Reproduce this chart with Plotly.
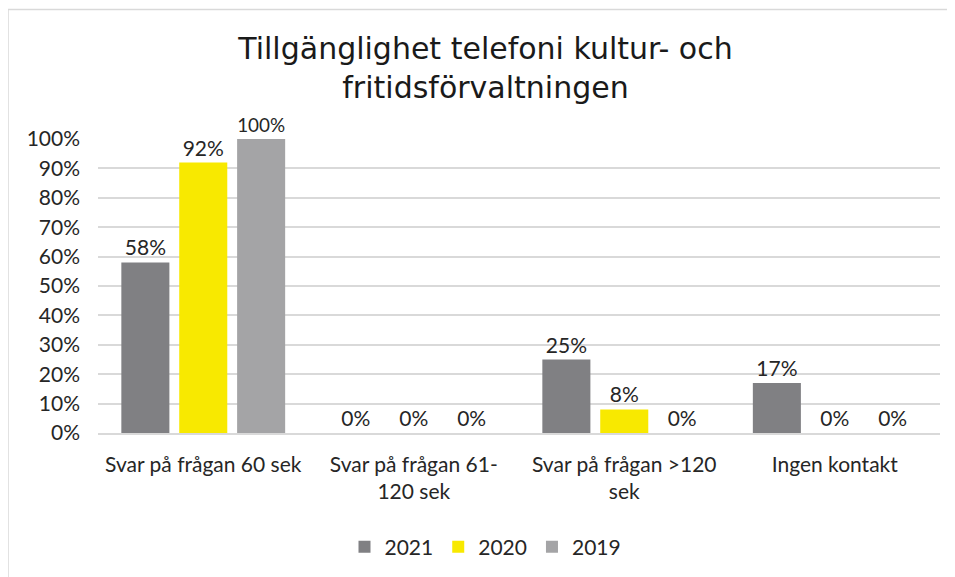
import plotly.graph_objects as go

categories = ["Svar på frågan 60 sek", "Svar på frågan 61-<br>120 sek", "Svar på frågan >120<br>sek", "Ingen kontakt"]
series_names = ["2021", "2020", "2019"]
values_2021 = [0.58, 0.0, 0.25, 0.17]
values_2020 = [0.92, 0.0, 0.08, 0.0]
values_2019 = [1.00, 0.0, 0.0, 0.0]
tick_vals = [0, 0.1, 0.2, 0.3, 0.4, 0.5, 0.6, 0.7, 0.8, 0.9, 1.0]
tick_text = ["0%", "10%", "20%", "30%", "40%", "50%", "60%", "70%", "80%", "90%", "100%"]

colors = ["#808083", "#f8e900", "#a4a4a6"]
all_values = [values_2021, values_2020, values_2019]

W, H = 955, 577
OFF = 8  # page body margin offset
ml = 98 - OFF
mt = 139 - OFF
mr = W - (940 - OFF)
mb = H - (433 - OFF)
pw, ph = W - ml - mr, H - mt - mb

FONT = "Lato"
FS = 21
TXT = "#262626"

fig = go.Figure()
for name, vals, col in zip(series_names, all_values, colors):
    fig.add_trace(go.Bar(
        x=categories, y=vals, name=name,
        marker=dict(color=col, line=dict(width=0)),
        text=[f"{round(v*100)}%" for v in vals],
        textposition="outside",
        textfont=dict(family=FONT, size=FS, color=TXT),
        cliponaxis=False,
    ))

def px_x(x):
    return (x - ml) / pw

def px_y(y):
    return (H - mb - y) / ph

border = "#d9d9d9"
fig.add_shape(type="line", xref="paper", yref="paper",
              x0=px_x(0), x1=px_x(970), y0=px_y(1.5), y1=px_y(1.5),
              line=dict(color=border, width=1.5))
fig.add_shape(type="line", xref="paper", yref="paper",
              x0=px_x(0), x1=px_x(0), y0=px_y(1.5), y1=px_y(600),
              line=dict(color=border, width=1.5))

fig.update_layout(
    width=W, height=H,
    margin=dict(l=ml, r=mr, t=mt, b=mb),
    paper_bgcolor="white", plot_bgcolor="white",
    barmode="group", bargap=0.175, bargroupgap=0.17,
    title=dict(
        text="Tillgänglighet telefoni kultur- och<br>fritidsförvaltningen",
        font=dict(family="DejaVu Sans", size=30, color="#1a1a1a"),
        x=0.5, xanchor="center", xref="container",
        y=1 - 51 / H, yanchor="top", yref="container",
    ),
    font=dict(family=FONT, size=FS, color=TXT),
    xaxis=dict(showgrid=False, showline=True, linecolor=border, linewidth=1.5,
               ticks="", ticklabelstandoff=12,
               tickfont=dict(family=FONT, size=FS, color=TXT)),
    yaxis=dict(range=[0, 1.0], tickvals=tick_vals, ticktext=tick_text,
               showgrid=True, gridcolor=border, gridwidth=1.5, zeroline=False,
               showline=False, ticks="", ticklabelstandoff=17,
               tickfont=dict(family=FONT, size=FS, color=TXT)),
    legend=dict(orientation="h", x=0.5, xanchor="center", xref="container",
                y=1 - 539 / H, yanchor="middle", yref="container",
                font=dict(family=FONT, size=FS, color=TXT),
                itemwidth=30, traceorder="normal"),
    showlegend=True,
)

fig.write_html("out.html")
